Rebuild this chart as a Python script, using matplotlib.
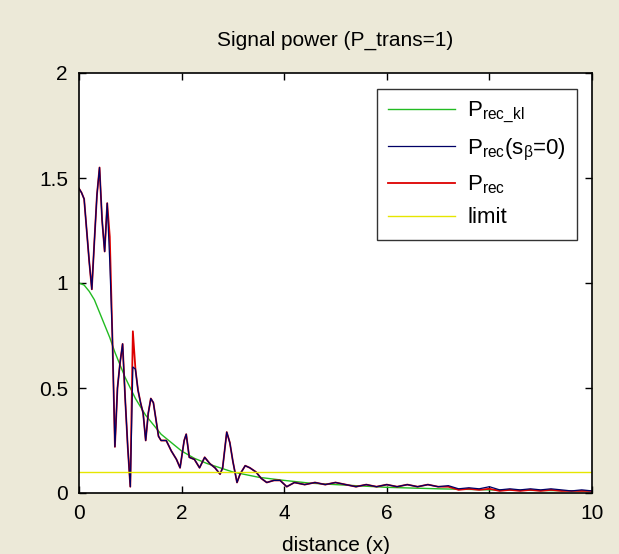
import numpy as np
import matplotlib
matplotlib.use('Agg')
import matplotlib.pyplot as plt

# values
x_kl = [0, 0.1, 0.2, 0.3, 0.4, 0.5, 0.6, 0.7, 0.8, 0.9, 1.0, 1.1, 1.2, 1.3, 1.4, 1.5, 1.6, 1.7, 1.8, 1.9,
        2.0, 2.25, 2.5, 2.75, 3.0, 3.5, 4.0, 4.5, 5.0, 6.0, 7.0, 8.0, 9.0, 10.0]
p_rec_kl = [1.0, 0.99, 0.96, 0.92, 0.86, 0.80, 0.74, 0.67, 0.61, 0.55, 0.50, 0.45, 0.41, 0.37, 0.34,
            0.31, 0.28, 0.26, 0.24, 0.22, 0.20, 0.165, 0.14, 0.12, 0.10, 0.075, 0.06, 0.047, 0.04,
            0.027, 0.02, 0.015, 0.012, 0.01]

x_rec = [0.00, 0.05, 0.10, 0.15, 0.20, 0.25, 0.30, 0.35, 0.40, 0.45, 0.50, 0.55, 0.60, 0.65, 0.70,
         0.75, 0.80, 0.85, 0.90, 0.95, 1.00, 1.05, 1.10, 1.15, 1.20, 1.25, 1.30, 1.35, 1.40, 1.45,
         1.50, 1.55, 1.60, 1.70, 1.80, 1.90, 1.97, 2.05, 2.09, 2.15, 2.25, 2.35, 2.45, 2.55, 2.65,
         2.75, 2.80, 2.88, 2.94, 3.00, 3.08, 3.14, 3.24, 3.33, 3.45, 3.55, 3.66, 3.80, 3.92, 4.05,
         4.2, 4.4, 4.6, 4.8, 5.0, 5.2, 5.4, 5.6, 5.8, 6.0, 6.2, 6.4, 6.6, 6.8, 7.0, 7.2, 7.4, 7.6,
         7.8, 8.0, 8.2, 8.4, 8.6, 8.8, 9.0, 9.2, 9.4, 9.6, 9.8, 10.0]
p_rec_b0 = [1.45, 1.43, 1.40, 1.25, 1.10, 0.97, 1.20, 1.42, 1.55, 1.30, 1.15, 1.38, 1.10, 0.75, 0.22,
            0.50, 0.62, 0.71, 0.45, 0.22, 0.03, 0.60, 0.59, 0.49, 0.43, 0.38, 0.25, 0.38, 0.45, 0.43,
            0.35, 0.27, 0.25, 0.25, 0.20, 0.16, 0.12, 0.25, 0.28, 0.17, 0.16, 0.12, 0.17, 0.14, 0.12,
            0.09, 0.12, 0.29, 0.24, 0.15, 0.05, 0.09, 0.13, 0.12, 0.10, 0.07, 0.05, 0.06, 0.06, 0.03,
            0.05, 0.04, 0.05, 0.04, 0.05, 0.04, 0.03, 0.04, 0.03, 0.04, 0.03, 0.04, 0.03, 0.04, 0.03,
            0.035, 0.02, 0.025, 0.02, 0.03, 0.015, 0.02, 0.015, 0.02, 0.015, 0.02, 0.015, 0.01, 0.015, 0.01]
p_rec = [1.45, 1.43, 1.40, 1.25, 1.10, 0.97, 1.20, 1.42, 1.55, 1.30, 1.15, 1.38, 1.22, 0.75, 0.22,
         0.50, 0.62, 0.71, 0.45, 0.22, 0.03, 0.77, 0.59, 0.49, 0.43, 0.38, 0.25, 0.38, 0.45, 0.43,
         0.35, 0.27, 0.25, 0.25, 0.20, 0.16, 0.12, 0.25, 0.28, 0.17, 0.16, 0.12, 0.17, 0.14, 0.12,
         0.09, 0.12, 0.29, 0.24, 0.15, 0.05, 0.09, 0.13, 0.12, 0.10, 0.07, 0.05, 0.06, 0.06, 0.03,
         0.05, 0.04, 0.05, 0.04, 0.05, 0.04, 0.03, 0.04, 0.03, 0.04, 0.03, 0.04, 0.03, 0.04, 0.03,
         0.03, 0.015, 0.02, 0.015, 0.02, 0.01, 0.015, 0.01, 0.015, 0.01, 0.015, 0.01, 0.01, 0.01, 0.01]
limit = 0.1

plt.rcParams['font.family'] = 'Liberation Sans'
plt.rcParams['mathtext.fontset'] = 'custom'
plt.rcParams['mathtext.rm'] = 'Liberation Sans'
plt.rcParams['mathtext.it'] = 'Liberation Sans'
plt.rcParams['mathtext.default'] = 'regular'

bg = '#ece9d8'
fig = plt.figure(figsize=(6.19, 5.54), dpi=100, facecolor=bg)
ax = fig.add_axes([79/619, 61/554, 513/619, 420/554])

l_kl, = ax.plot(x_kl, p_rec_kl, color='#22bb22', lw=1.0)
l_red, = ax.plot(x_rec, p_rec, color='#dd0000', lw=1.3)
l_blue, = ax.plot(x_rec, p_rec_b0, color='#000066', lw=0.9)
l_lim = ax.axhline(limit, color='#e6e600', lw=1.0)

# legend order as in the reference
h = [l_kl, l_blue, l_red, l_lim]
lab = [r'$P_{rec\_kl}$', r'$P_{rec}$(s$_{\beta}$=0)', r'$P_{rec}$', 'limit']
leg = ax.legend(h, lab, loc='upper right', bbox_to_anchor=(0.971, 0.962), borderaxespad=0,
                fontsize=16, frameon=True, fancybox=False, edgecolor='black',
                handlelength=3.0, labelspacing=0.5, borderpad=0.5, handletextpad=0.55)
leg.get_frame().set_linewidth(1.0)

ax.set_xlim(0, 10)
ax.set_ylim(0, 2)
ax.set_xticks([0, 2, 4, 6, 8, 10])
ax.set_yticks([0, 0.5, 1, 1.5, 2])
ax.set_yticklabels(['0', '0.5', '1', '1.5', '2'])
ax.tick_params(direction='in', length=5, width=1, top=True, right=True, labelsize=15, pad=8)
for s in ax.spines.values():
    s.set_linewidth(1.2)

ax.set_xlabel('distance (x)', fontsize=15)
ax.xaxis.set_label_coords(0.5, -0.124)
ax.xaxis.label.set_va('center')
fig.text((79 + 592) / 2 / 619, 1 - 40/554, 'Signal power (P_trans=1)', fontsize=15,
         ha='center', va='center')

fig.savefig('out.png', dpi=100, facecolor=bg)
